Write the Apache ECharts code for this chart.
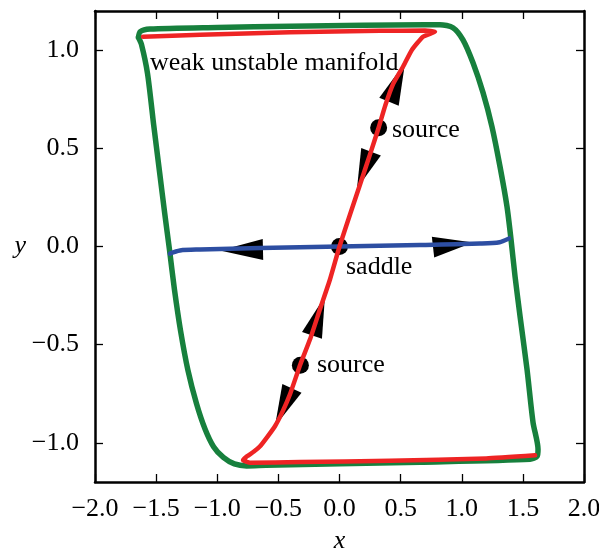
<!DOCTYPE html>
<html>
<head>
<meta charset="utf-8">
<script src="https://cdn.jsdelivr.net/npm/echarts@6/dist/echarts.min.js"></script>
<style>
  html, body { margin: 0; padding: 0; background: #fff; }
  #chart { width: 599px; height: 549px; }
</style>
</head>
<body>
<div id="chart"></div>
<script>
// limit cycle (green), clockwise from the top-left corner
const cycle = [
  [-1.645, 1.065], [-1.63, 1.095], [-1.55, 1.108], [-1.0, 1.116], [-0.4, 1.122],
  [0.2, 1.127], [0.7, 1.13], [0.822, 1.13], [0.928, 1.115], [1.01, 1.053],
  [1.092, 0.936], [1.174, 0.784], [1.247, 0.611], [1.313, 0.407], [1.37, 0.204],
  [1.403, 0.036], [1.436, -0.153], [1.477, -0.356], [1.534, -0.626], [1.583, -0.896],
  [1.624, -1.033], [1.616, -1.069], [1.559, -1.084], [0.658, -1.099], [0.0, -1.107],
  [-0.6, -1.115], [-0.76, -1.118], [-0.86, -1.108], [-0.95, -1.075], [-1.03, -1.02],
  [-1.10, -0.93], [-1.17, -0.80], [-1.24, -0.63], [-1.30, -0.43], [-1.35, -0.22],
  [-1.39, -0.02], [-1.43, 0.17], [-1.47, 0.37], [-1.52, 0.62], [-1.57, 0.88],
  [-1.62, 1.03], [-1.645, 1.065]
];

// weak unstable manifold (red)
const manifold = [
  [1.60, -1.064], [1.2, -1.08], [0.413, -1.092], [-0.323, -1.098], [-0.73, -1.102],
  [-0.789, -1.089], [-0.757, -1.069], [-0.70, -1.045], [-0.65, -1.018], [-0.59, -0.97],
  [-0.528, -0.916], [-0.465, -0.84], [-0.405, -0.753], [-0.32, -0.60], [-0.241, -0.473],
  [-0.16, -0.32], [-0.078, -0.168], [0, 0], [0.086, 0.163], [0.168, 0.316],
  [0.249, 0.468], [0.32, 0.605], [0.375, 0.72], [0.44, 0.83], [0.519, 0.916],
  [0.593, 1.003], [0.683, 1.069], [0.781, 1.094], [0.70, 1.10], [0.33, 1.099],
  [-0.405, 1.092], [-1.14, 1.079], [-1.607, 1.069]
];

// stable manifold of the saddle (blue)
const stable = [
  [-1.387, -0.036], [-1.305, -0.02], [-1.141, -0.015], [-0.65, -0.008], [0, 0],
  [0.658, 0.008], [1.149, 0.015], [1.31, 0.022], [1.387, 0.041]
];

// arrow heads: base centre and tip
const arrowBase = [[-0.626, -0.015], [0.765, -0.003], [0.405, 0.738], [0.258, 0.483], [-0.225, -0.453], [-0.389, -0.723]];
const arrowTip  = [[-0.978, -0.02], [1.092, 0.02], [0.536, 0.936], [0.143, 0.295], [-0.119, -0.254], [-0.528, -0.916]];

const fixedPoints = [[0, 0], [0.32, 0.605], [-0.32, -0.605]];

const labelText = ['weak unstable manifold', 'source', 'source', 'saddle'];
const labelPos = [[-1.55, 0.936], [0.429, 0.595], [-0.184, -0.606], [0.053, -0.107]];

const xTicks = [-2, -1.5, -1, -0.5, 0, 0.5, 1, 1.5, 2];
const yTicks = [-1, -0.5, 0, 0.5, 1];

const serif = 'Liberation Serif';
const fmt = v => (v < 0 ? '\u2212' : '') + Math.abs(v).toFixed(1);

const chart = echarts.init(document.getElementById('chart'));

const baseAxis = {
  axisLine: { show: true, onZero: false, lineStyle: { color: '#000', width: 2.5 } },
  axisTick: { show: true, inside: true, length: 8, lineStyle: { color: '#000', width: 1.3 } },
  splitLine: { show: false }
};

const xAxisCommon = {
  type: 'value', min: -2, max: 2,
  axisTick: Object.assign({}, baseAxis.axisTick, { customValues: xTicks }),
  axisLine: baseAxis.axisLine,
  splitLine: baseAxis.splitLine
};
const yAxisCommon = {
  type: 'value', min: -1.2, max: 1.2,
  axisTick: Object.assign({}, baseAxis.axisTick, { customValues: yTicks }),
  axisLine: baseAxis.axisLine,
  splitLine: baseAxis.splitLine
};

chart.setOption({
  animation: false,
  backgroundColor: '#fff',
  grid: { left: 95, right: 15, top: 11, bottom: 67, containLabel: false, outerBoundsMode: 'none' },
  xAxis: [
    Object.assign({}, xAxisCommon, {
      position: 'bottom',
      name: 'x', nameLocation: 'middle', nameGap: 46,
      nameTextStyle: { fontFamily: serif, fontStyle: 'italic', fontSize: 26, color: '#000' },
      axisLabel: { customValues: xTicks, formatter: fmt, margin: 14, fontFamily: serif, fontSize: 26, color: '#000' }
    }),
    Object.assign({}, xAxisCommon, { position: 'top', axisLabel: { show: false } })
  ],
  yAxis: [
    Object.assign({}, yAxisCommon, {
      position: 'left',
      name: 'y', nameLocation: 'middle', nameGap: 68, nameRotate: 0,
      nameTextStyle: { fontFamily: serif, fontStyle: 'italic', fontSize: 26, color: '#000' },
      axisLabel: { customValues: yTicks, formatter: fmt, margin: 16, fontFamily: serif, fontSize: 26, color: '#000' }
    }),
    Object.assign({}, yAxisCommon, { position: 'right', axisLabel: { show: false } })
  ],
  series: [
    {
      name: 'cycle', type: 'line', data: cycle, showSymbol: false, symbol: 'none', smooth: 0.25,
      lineStyle: { color: '#17803d', width: 5.5, join: 'round', cap: 'round' }
    },
    {
      name: 'stable', type: 'line', data: stable, showSymbol: false, symbol: 'none', smooth: 0.3,
      lineStyle: { color: '#2d4ea2', width: 4.5, join: 'round', cap: 'round' }
    },
    {
      name: 'manifold', type: 'line', data: manifold, showSymbol: false, symbol: 'none', smooth: 0.15,
      lineStyle: { color: '#ee2424', width: 4.5, join: 'round', cap: 'round' }
    },
    {
      name: 'arrows', type: 'custom',
      data: arrowBase.map((b, i) => [b[0], b[1], arrowTip[i][0], arrowTip[i][1]]),
      encode: { x: [0, 2], y: [1, 3] },
      renderItem: (params, api) => {
        const b = api.coord([api.value(0), api.value(1)]);
        const t = api.coord([api.value(2), api.value(3)]);
        const dx = t[0] - b[0], dy = t[1] - b[1];
        const len = Math.hypot(dx, dy);
        const nx = -dy / len * 10.5, ny = dx / len * 10.5;
        return {
          type: 'polygon',
          shape: { points: [t, [b[0] + nx, b[1] + ny], [b[0] - nx, b[1] - ny]] },
          style: { fill: '#000' }
        };
      }
    },
    {
      name: 'points', type: 'scatter', data: fixedPoints, symbolSize: 17,
      itemStyle: { color: '#000', opacity: 1 }
    },
    {
      name: 'labels', type: 'scatter', symbolSize: 0,
      itemStyle: { opacity: 1 },
      data: labelPos.map((p, i) => ({ value: p, name: labelText[i] })),
      label: {
        show: true, position: 'right', distance: 0,
        formatter: p => p.name,
        fontFamily: serif, fontSize: 26, color: '#000'
      }
    }
  ]
});
</script>
</body>
</html>
